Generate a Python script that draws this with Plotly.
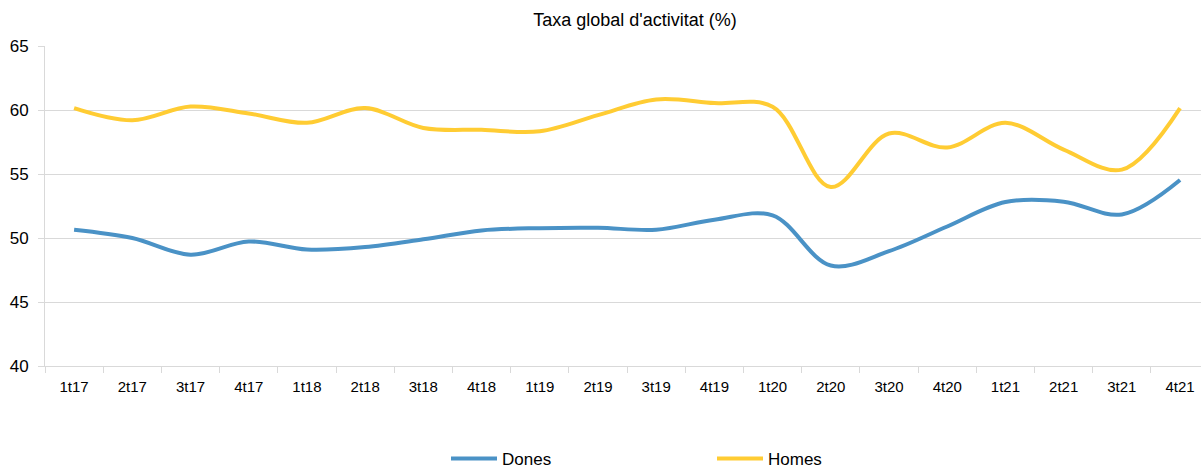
import plotly.graph_objects as go

categories = ["1t17", "2t17", "3t17", "4t17", "1t18", "2t18", "3t18", "4t18",
              "1t19", "2t19", "3t19", "4t19", "1t20", "2t20", "3t20", "4t20",
              "1t21", "2t21", "3t21", "4t21"]
dones = [50.65, 50.0, 48.7, 49.73, 49.1, 49.29, 49.9, 50.59, 50.77, 50.8,
         50.65, 51.43, 51.77, 47.85, 48.97, 50.9, 52.81, 52.84, 51.84, 54.53]
homes = [60.15, 59.2, 60.27, 59.73, 59.0, 60.15, 58.6, 58.45, 58.34, 59.6,
         60.82, 60.54, 60.25, 53.98, 58.16, 57.07, 59.0, 56.91, 55.34, 60.15]
y_ticks = [40, 45, 50, 55, 60, 65]
title_text = "Taxa global d'activitat (%)"

BLUE = "#4a92c6"
YELLOW = "#ffcc33"
GRID = "#d9d9d9"
FONT = "Liberation Sans, Arial, sans-serif"

fig = go.Figure()
fig.add_trace(go.Scatter(x=categories, y=dones, name="Dones", mode="lines",
                         line=dict(color=BLUE, width=4, shape="spline", smoothing=1.0)))
fig.add_trace(go.Scatter(x=categories, y=homes, name="Homes", mode="lines",
                         line=dict(color=YELLOW, width=4, shape="spline", smoothing=1.0)))

fig.update_layout(
    width=1201, height=468,
    margin=dict(l=45, r=0, t=46, b=102, autoexpand=False),
    paper_bgcolor="white", plot_bgcolor="white",
    font=dict(family=FONT, color="#000000"),
    title=dict(text=title_text, x=635 / 1201, xanchor="center", xref="container",
               yref="container", y=1 - 20 / 468, yanchor="middle",
               font=dict(size=18, family=FONT, color="#000")),
    showlegend=True,
    legend=dict(orientation="h", x=(454 - 45 - 8) / 1156, xanchor="left",
                yref="container", y=9 / 468, yanchor="middle",
                font=dict(size=17, family=FONT, color="#000"),
                itemwidth=46, entrywidth=205, entrywidthmode="pixels",
                bgcolor="rgba(0,0,0,0)"),
    xaxis=dict(type="category", range=[-0.5, 19.36], tickson="boundaries",
               ticks="outside", ticklen=6, tickcolor=GRID, showgrid=False,
               showline=True, linecolor=GRID, linewidth=1, automargin=False,
               tickfont=dict(size=15, family=FONT, color="#000"),
               ticklabelstandoff=7, fixedrange=True),
    yaxis=dict(range=[40, 65], tickvals=y_ticks, ticks="outside", ticklen=6,
               tickcolor=GRID, showgrid=True, gridcolor=GRID, gridwidth=1,
               showline=True, linecolor=GRID, linewidth=1, zeroline=False,
               automargin=False,
               tickfont=dict(size=17, family=FONT, color="#000"),
               ticklabelstandoff=6, fixedrange=True),
)

fig.write_html("out.html", config={"displayModeBar": False},
               post_script="document.body.style.margin='0';")
